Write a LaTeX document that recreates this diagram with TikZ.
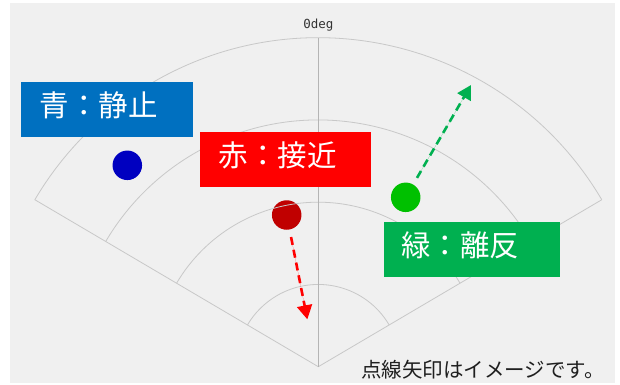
\documentclass[tikz,border=0pt]{standalone}
\usepackage{fontspec}
\setmainfont{Noto Sans CJK JP}
\newfontfamily\monofont{DejaVu Sans Mono}
\usetikzlibrary{arrows.meta,calc}
\definecolor{bg}{HTML}{F0F0F0}
\definecolor{gridc}{HTML}{C8C8C8}
\definecolor{axisc}{HTML}{B4B4B4}
\definecolor{bluebox}{HTML}{0070C0}
\definecolor{redbox}{HTML}{FF0000}
\definecolor{greenbox}{HTML}{00B050}
\definecolor{bluedot}{HTML}{0000C0}
\definecolor{reddot}{HTML}{C00000}
\definecolor{greendot}{HTML}{00C000}
\tikzset{
  gridline/.style={draw=gridc, line width=0.8pt},
  dot/.style={circle, inner sep=0pt, minimum size=29.5pt, draw=none},
  labeltext/.style={anchor=west, inner sep=0pt, text=white, font=\fontsize{29.5}{31}\selectfont},
  motion/.style={line width=2.6pt, dash pattern=on 8pt off 5pt,
    -{Triangle[length=14pt,width=15pt]}, shorten <=7.5pt},
}
\begin{document}
\begin{tikzpicture}[x=1pt,y=1pt]
\useasboundingbox (0,0) rectangle (620,384);
\fill[white] (0,0) rectangle (620,384);
\fill[bg] (10,1) rectangle (615,381);
% dots
\node[dot, fill=bluedot] (blue) at (127.3,218.7) {};
\node[dot, fill=reddot] (red) at (286.7,169) {};
\node[dot, fill=greendot] (green) at (405.7,186.7) {};
% grid
\coordinate (apex) at (318.3,17.3);
\foreach \r in {82.25,164.5,246.75,329}{
  \draw[gridline] ($(apex)+(30.5:\r)$) arc[start angle=30.5,end angle=149.5,radius=\r];
}
\draw[gridline] (apex) -- ($(apex)+(30.5:329)$);
\draw[gridline] (apex) -- ($(apex)+(149.5:329)$);
\coordinate (top) at ($(apex)+(90:329)$);
\draw[draw=axisc, line width=0.8pt] (apex) -- (top);
\node[font=\monofont\fontsize{12.5}{13}\selectfont, text=black!80] (deg) at (318.3,359) {0deg};
% arrows
\coordinate (redtip) at (307.3,64.7);
\coordinate (greentip) at (471,299);
\draw[motion, draw=redbox, fill=redbox] (red) -- (redtip);
\draw[motion, draw=greenbox, fill=greenbox] (green) -- (greentip);
% label boxes
\fill[bluebox] (21,247) rectangle (193,302);
\node[labeltext] (bluelbl) at (39.5,278.5) {青：静止};
\fill[redbox] (200,197) rectangle (371,252);
\node[labeltext] (redlbl) at (218.5,228.5) {赤：接近};
\fill[greenbox] (384,107.3) rectangle (560,161.7);
\node[labeltext] (greenlbl) at (401,138.5) {緑：離反};
% note
\node[anchor=west, inner sep=0pt, text=black!88, font=\fontsize{20.5}{22}\selectfont] (note) at (361,14.5) {点線矢印はイメージです。};
\end{tikzpicture}
\end{document}
